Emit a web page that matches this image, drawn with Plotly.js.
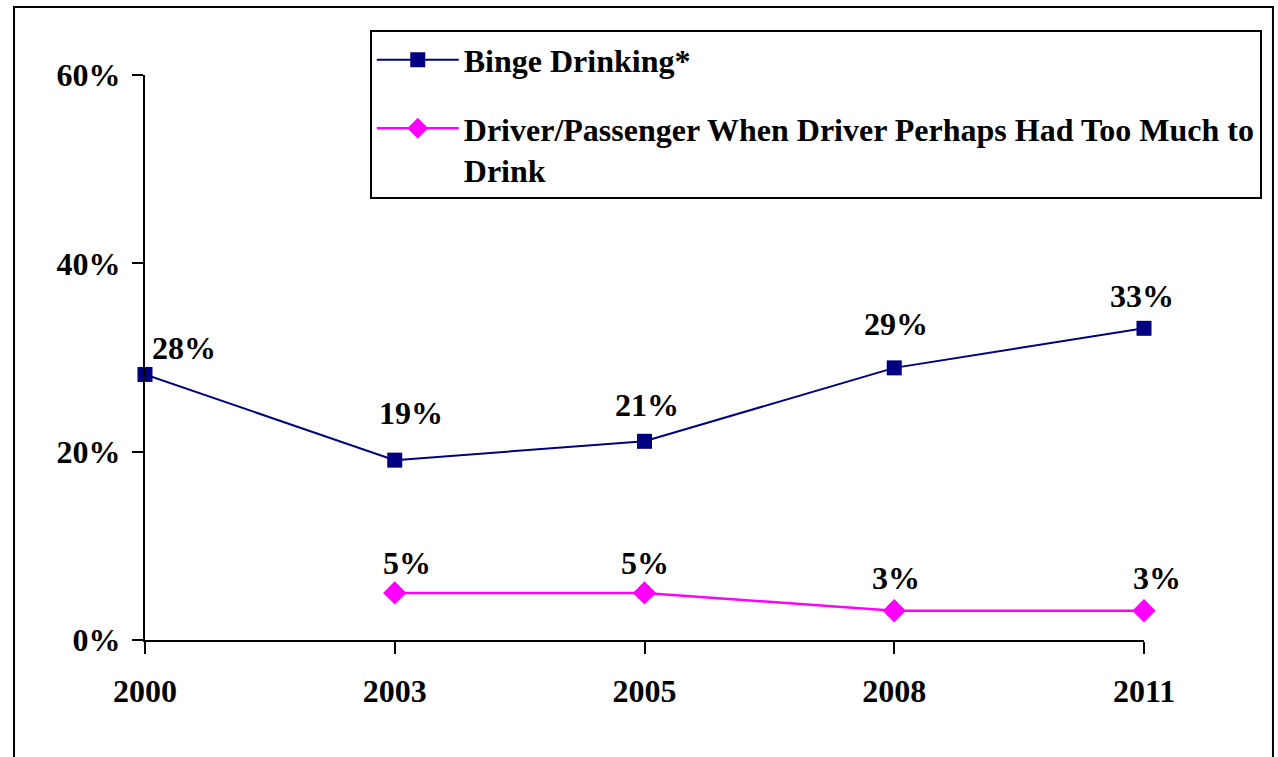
<!DOCTYPE html>
<html><head><meta charset="utf-8">
<script src="https://cdn.plot.ly/plotly-3.0.1.min.js"></script>
<style>html,body{margin:0;padding:0;background:#fff;}#chart{width:1278px;height:757px;}</style>
</head><body><div id="chart"></div>
<script>
const years = ['2000','2003','2005','2008','2011'];
const bingeDrinking = [28.2, 19.1, 21.1, 28.9, 33.1];
const driverPassenger = [null, 5.0, 5.0, 3.1, 3.1];
const bingeLabels = ['28%','19%','21%','29%','33%'];
const driverLabels = [null,'5%','5%','3%','3%'];
const seriesNames = ['Binge Drinking*','Driver/Passenger When Driver Perhaps Had Too Much to<br>Drink'];
const yTickVals = [0,20,40,60];
const yTickText = ['0%','20%','40%','60%'];

const FONT = '"Liberation Serif", "Times New Roman", serif';
const FS = 32;
const bingeShift = [[39,26],[16,47],[2,36],[2,44],[-2,32]];
const driverShift = [null,[12,30],[0,30],[2,33],[13,33]];

const annotations = [];
bingeDrinking.forEach((v,i)=>{
  if(v==null) return;
  annotations.push({x:i, y:v, xref:'x', yref:'y', text:'<b>'+bingeLabels[i]+'</b>', showarrow:false,
    xanchor:'center', yanchor:'middle',
    xshift:bingeShift[i][0], yshift:bingeShift[i][1], font:{family:FONT,size:FS,color:'#000'}});
});
driverPassenger.forEach((v,i)=>{
  if(v==null) return;
  annotations.push({x:i, y:v, xref:'x', yref:'y', text:'<b>'+driverLabels[i]+'</b>', showarrow:false,
    xanchor:'center', yanchor:'middle',
    xshift:driverShift[i][0], yshift:driverShift[i][1], font:{family:FONT,size:FS,color:'#000'}});
});

const traces = [
  {x:years, y:bingeDrinking, name:'<b>'+seriesNames[0]+'</b>', type:'scatter', mode:'lines+markers', legendgroup:'a',
   line:{color:'#000080', width:2}, marker:{symbol:'square', size:15, color:'#000080'}, cliponaxis:false},
  {x:years, y:driverPassenger, name:'<b>'+seriesNames[1]+'</b>', type:'scatter', mode:'lines+markers', legendgroup:'b',
   line:{color:'#FF00FF', width:2.5}, marker:{symbol:'diamond', size:18, color:'#FF00FF'}, cliponaxis:false}
];

const layout = {
  width:1278, height:757,
  margin:{l:145, r:134, t:75, b:117},
  paper_bgcolor:'#fff', plot_bgcolor:'#fff',
  font:{family:FONT, size:FS, color:'#000'},
  showlegend:true,
  legend:{x:0.225, xanchor:'left', y:1.079, yanchor:'top', bordercolor:'#000', borderwidth:2,
    bgcolor:'#fff', font:{family:FONT,size:FS,color:'#000'}, valign:'top', traceorder:'grouped', tracegroupgap:24, itemwidth:82},
  xaxis:{type:'category', range:[0,4], showgrid:false, zeroline:false, showline:true, linecolor:'#000', linewidth:2,
    ticks:'outside', ticklen:12, tickwidth:2, tickcolor:'#000', ticklabelstandoff:10,
    tickfont:{family:FONT,size:FS,color:'#000'}, tickprefix:'<b>', ticksuffix:'</b>'},
  yaxis:{range:[0,60], tickvals:yTickVals, ticktext:yTickText.map(t=>'<b>'+t+'</b>'), showgrid:false, zeroline:false,
    showline:true, linecolor:'#000', linewidth:2, ticks:'outside', ticklen:11, tickwidth:2, tickcolor:'#000',
    ticklabelstandoff:5, tickfont:{family:FONT,size:FS,color:'#000'}},
  annotations:annotations,
  shapes:[{type:'rect', xref:'paper', yref:'paper', x0:-0.1311, x1:1.1291, y0:-0.3, y1:1.1204,
    line:{color:'#000', width:2}, fillcolor:'rgba(0,0,0,0)', layer:'below'}]
};
Plotly.newPlot('chart', traces, layout, {displayModeBar:false, staticPlot:true});
</script>
</body></html>
